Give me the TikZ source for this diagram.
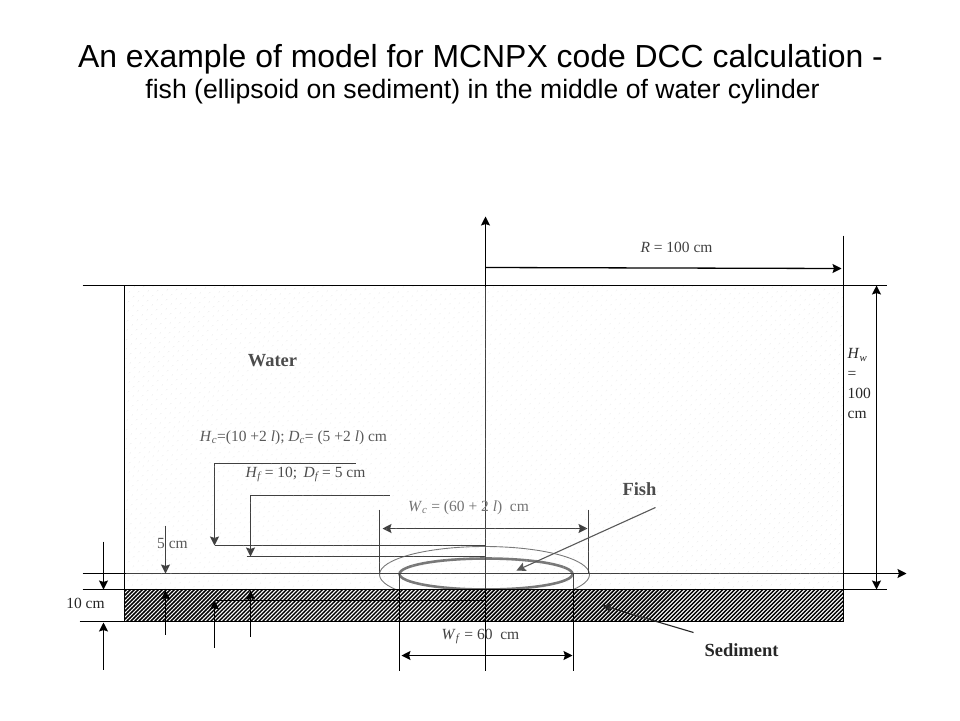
\documentclass[tikz,border=0pt]{standalone}
\usepackage{fontspec}
\setmainfont{Liberation Serif}
\newfontfamily\titlefont{Liberation Sans}
\usetikzlibrary{arrows.meta, patterns.meta}
\newcommand{\varsub}[2]{\textit{#1}\textsubscript{\textit{#2}}}
\tikzset{
    >={Stealth[length=9pt,width=9pt,inset=1.5pt]},
    dim/.style={line width=1.3pt, black},
    label/.style={inner sep=0pt, font=\fontsize{15.5}{20}\selectfont, text=#1},
    label/.default={black!70},
    tag/.style={inner sep=0pt, font=\fontsize{18.5}{22}\selectfont\bfseries, text=#1},
    tag/.default={black!70}
}

\begin{document}
\begin{tikzpicture}[x=1pt, y=-1pt]
    \useasboundingbox (-0.5,-0.5) rectangle (959.5,719.5);

    \node [inner sep=0pt, font=\titlefont\fontsize{31.9}{36}\selectfont] (Title) at (480,59) {An example of model for MCNPX code DCC calculation -};
    \node [inner sep=0pt, font=\titlefont\fontsize{26.6}{31}\selectfont] (Subtitle) at (482,91) {fish (ellipsoid on sediment) in the middle of water cylinder};

    % cavity and fish
    \draw [line width=0.9pt, black!70] (484,574) ellipse [x radius=105, y radius=28];
    \draw [line width=2.6pt, black!70] (485.5,573.5) ellipse [x radius=86.5, y radius=15.5];

    % sediment
    \fill [white] (124,589) rectangle (843,621);
    \fill [pattern={Lines[angle=45,distance=2.83pt,line width=1.5pt]}] (124,589) rectangle (843,621);
    \node [draw, line width=1.3pt, inner sep=0pt, minimum width=719pt, minimum height=32pt] (Sed) at (483.5,605) {};

    % axes and reference lines
    \coordinate (AxisTop) at (485,216);
    \coordinate (AxisBot) at (485,670);
    \coordinate (AxisL) at (82,573);
    \coordinate (AxisR) at (906,573);
    \draw [dim, ->] (AxisBot) -- (AxisTop);
    \draw [dim, ->] (AxisL) -- (AxisR);

    \coordinate (TopL) at (82,285);
    \coordinate (TopR) at (886,285);
    \coordinate (SedL) at (82,589);
    \coordinate (SedR) at (886,589);
    \coordinate (BotL) at (79,621);
    \coordinate (BotR) at (123,621);
    \coordinate (WallL) at (124,285);
    \coordinate (WallLB) at (124,589);
    \coordinate (WallR) at (843,235);
    \coordinate (WallRB) at (843,589);
    \draw [dim] (TopL) -- (TopR);
    \draw [dim] (SedL) -- (SedR);
    \draw [dim] (BotL) -- (BotR);
    \draw [dim] (WallL) -- (WallLB);
    \draw [dim] (WallR) -- (WallRB);

    % radius and water height
    \coordinate (RA) at (485,267);
    \coordinate (RB) at (841,268);
    \draw [dim, ->] (RA) -- (RB);
    \coordinate (HwA) at (876,285);
    \coordinate (HwB) at (876,589);
    \draw [dim, <->] (HwA) -- (HwB);

    % 10 cm
    \coordinate (TenA) at (103,541);
    \coordinate (TenB) at (103,589);
    \coordinate (TenC) at (103,669);
    \coordinate (TenD) at (103,622);
    \draw [dim, ->] (TenA) -- (TenB);
    \draw [dim, ->] (TenC) -- (TenD);

    % 5 cm
    \coordinate (FiveA) at (165,525);
    \coordinate (FiveB) at (165,573);
    \coordinate (FiveC) at (165,634);
    \coordinate (FiveD) at (165,590);
    \draw [dim, ->] (FiveA) -- (FiveB);
    \draw [dim, ->] (FiveC) -- (FiveD);

    % cavity height
    \coordinate (HcT) at (355,463);
    \coordinate (HcA) at (214,463);
    \coordinate (HcB) at (214,545);
    \coordinate (HcE) at (485,545);
    \coordinate (HcC) at (214,647);
    \coordinate (HcD) at (214,600);
    \coordinate (HcF) at (485,600);
    \draw [dim, ->] (HcT) -- (HcA) -- (HcB);
    \draw [dim] (HcB) -- (HcE);
    \draw [dim, ->] (HcC) -- (HcD);
    \draw [dim] (HcD) -- (HcF);

    % fish height
    \coordinate (HfT) at (389,495);
    \coordinate (HfA) at (250,495);
    \coordinate (HfB) at (250,556);
    \coordinate (HfS) at (246,556);
    \coordinate (HfE) at (485,556);
    \coordinate (HfC) at (250,636);
    \coordinate (HfD) at (250,590);
    \draw [dim, ->] (HfT) -- (HfA) -- (HfB);
    \draw [dim] (HfS) -- (HfE);
    \draw [dim, ->] (HfC) -- (HfD);

    % cavity width
    \coordinate (WcA) at (379,509);
    \coordinate (WcB) at (379,573);
    \coordinate (WcC) at (588,509);
    \coordinate (WcD) at (588,573);
    \coordinate (WcL) at (382,528);
    \coordinate (WcR) at (587,528);
    \draw [dim] (WcA) -- (WcB);
    \draw [dim] (WcC) -- (WcD);
    \draw [dim, <->] (WcL) -- (WcR);

    % fish width
    \coordinate (WfA) at (399,573);
    \coordinate (WfB) at (399,670);
    \coordinate (WfC) at (573,573);
    \coordinate (WfD) at (573,670);
    \coordinate (WfL) at (401,655);
    \coordinate (WfR) at (572,655);
    \draw [dim] (WfA) -- (WfB);
    \draw [dim] (WfC) -- (WfD);
    \draw [dim, <->] (WfL) -- (WfR);

    % water on top of the lines
    \fill [white, opacity=0.25] (125,286) rectangle (842,588);
    \fill [pattern={Dots[distance=6.5pt,radius=0.5pt,angle=45]}, pattern color=black!22] (125,286) rectangle (842,588);

    % labels
    \node [label=black!75] (LR) at (676,247) {\textit{R} = 100 cm};
    \node [tag] (Water) at (272,360) {Water};
    \node [tag] (Fish) at (639,489) {Fish};
    \node [tag=black!85] (Sediment) at (741,650) {Sediment};
    \node [label=black!65] (LHc) at (293,437) {\varsub{H}{c}=(10 +2 \textit{l}); \varsub{D}{c}= (5 +2 \textit{l}) cm};
    \node [label=black!70] (LHf) at (305,474) {\varsub{H}{f}\,= 10;\, \varsub{D}{f}\,= 5 cm};
    \node [label=black!55] (LWc) at (468,507) {\varsub{W}{c} = (60 + 2 \textit{l})\ \ cm};
    \node [label=black!75] (LWf) at (480,636) {\varsub{W}{f} = 60\ \ cm};
    \node [label=black!65] (LFive) at (172,543) {5 cm};
    \node [label=black!85] (LTen) at (85,603) {10 cm};
    \node [label=black!85, align=left, anchor=north west] (LHw) at (847,348) {\varsub{H}{w}\\=\\100\\cm};

    \coordinate (FishA) at (655,507);
    \coordinate (FishB) at (516,570);
    \draw [line width=1.1pt, black!65, ->] (FishA) -- (FishB);
    \coordinate (SedA) at (693,632);
    \coordinate (SedB) at (602,605);
    \draw [line width=1.1pt, black!85, ->] (SedA) -- (SedB);
\end{tikzpicture}
\end{document}
